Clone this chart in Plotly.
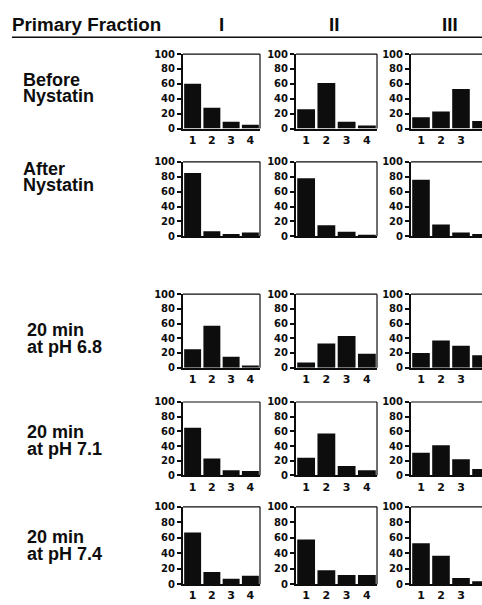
import plotly.graph_objects as go

W, H = 482, 605

# ---------------- data ----------------
bins = [1, 2, 3, 4]
bin_labels = ["1", "2", "3", "4"]
fractions = ["I", "II", "III"]
y_ticks = [0, 20, 40, 60, 80, 100]
row_label_top = ["Before", "After", "20 min", "20 min", "20 min"]
row_label_bottom = ["Nystatin", "Nystatin", "at pH 6.8", "at pH 7.1", "at pH 7.4"]

before_nystatin = [[60, 28, 9, 5], [26, 61, 9, 4], [15, 23, 53, 10]]
after_nystatin = [[85, 7, 3, 5], [78, 15, 6, 1], [76, 16, 5, 3]]
ph_6_8 = [[25, 57, 15, 3], [7, 33, 43, 19], [20, 37, 30, 17]]
ph_7_1 = [[65, 23, 7, 6], [24, 57, 13, 7], [31, 41, 22, 9]]
ph_7_4 = [[67, 16, 7, 11], [58, 18, 12, 12], [53, 37, 8, 4]]
rows = [before_nystatin, after_nystatin, ph_6_8, ph_7_1, ph_7_4]

# ---------------- layout geometry (pixels) ----------------
col_px = [(183, 260), (296, 377), (411, 491)]
row_px = [(49, 125), (159, 235), (294, 369), (404, 479), (511, 590)]
show_xlabels = [True, False, True, True, True]
label_x = [21, 21, 25, 25, 25]
label_y_top = [75, 166, 331, 435, 542]
label_y_bot = [92, 183, 348, 452, 559]
header_x = [221, 334, 450]

TXT = "Liberation Sans, Arial, Helvetica, sans-serif"
NUM = "DejaVu Sans, Arial, sans-serif"
INK = "#0d0d0d"

def px_x(x):
    return x / W

def px_y(y):
    return 1 - y / H

fig = go.Figure()
layout = dict(
    width=W, height=H, autosize=False,
    margin=dict(l=0, r=0, t=0, b=0),
    paper_bgcolor="white", plot_bgcolor="white",
    showlegend=False, bargap=0.12,
)
shapes = []
annotations = []

n = 0
for r, row in enumerate(rows):
    for c, vals in enumerate(row):
        n += 1
        xa = "x" if n == 1 else f"x{n}"
        ya = "y" if n == 1 else f"y{n}"
        xkey = "xaxis" if n == 1 else f"xaxis{n}"
        ykey = "yaxis" if n == 1 else f"yaxis{n}"
        x0, x1 = col_px[c]
        y0, y1 = row_px[r]
        vis_x1 = min(x1, W)
        xmax = 0.5 + 4 * (vis_x1 - x0) / (x1 - x0)
        fig.add_trace(go.Bar(x=bins, y=vals, xaxis=xa, yaxis=ya,
                             marker=dict(color=INK, line=dict(width=0)),
                             hoverinfo="skip"))
        layout[xkey] = dict(
            domain=[px_x(x0), px_x(vis_x1)], anchor=ya,
            range=[0.5, xmax], tickvals=bins, ticktext=bin_labels,
            showticklabels=show_xlabels[r], ticks="",
            showline=True, linecolor=INK, linewidth=2,
            showgrid=False, zeroline=False, fixedrange=True,
            tickfont=dict(family=NUM, size=11, color=INK, weight="bold"),
        )
        layout[ykey] = dict(
            domain=[px_y(y1), px_y(y0)], anchor=xa,
            range=[0, 100], tickvals=y_ticks,
            ticks="outside", ticklen=4, tickwidth=1.5, tickcolor=INK,
            showline=True, linecolor=INK, linewidth=2,
            showgrid=False, zeroline=False, fixedrange=True,
            tickfont=dict(family=NUM, size=10, color=INK, weight="bold"),
        )
        xd = f"{xa} domain"
        yd = f"{ya} domain"
        shapes.append(dict(type="line", xref=xd, yref=yd, x0=0, x1=1, y0=1, y1=1,
                           line=dict(color=INK, width=1.2)))
        if x1 <= W:
            shapes.append(dict(type="line", xref=xd, yref=yd, x0=1, x1=1, y0=0, y1=1,
                               line=dict(color=INK, width=1.2)))

# header
annotations.append(dict(text="Primary Fraction", x=px_x(10), y=px_y(19),
                        xref="paper", yref="paper", xanchor="left", yanchor="middle",
                        showarrow=False, font=dict(family=TXT, size=18.8, color=INK, weight="bold")))
for hx, f in zip(header_x, fractions):
    annotations.append(dict(text=f, x=px_x(hx), y=px_y(19), xref="paper", yref="paper",
                            xanchor="center", yanchor="middle", showarrow=False,
                            font=dict(family=TXT, size=18.8, color=INK, weight="bold")))
shapes.append(dict(type="line", xref="paper", yref="paper", x0=px_x(12), x1=1,
                   y0=px_y(32), y1=px_y(32), line=dict(color=INK, width=1.5)))

# row labels
for r in range(len(rows)):
    for txt, yy in ((row_label_top[r], label_y_top[r]), (row_label_bottom[r], label_y_bot[r])):
        annotations.append(dict(text=txt, x=px_x(label_x[r]), y=px_y(yy),
                                xref="paper", yref="paper", xanchor="left", yanchor="middle",
                                showarrow=False,
                                font=dict(family=TXT, size=18, color=INK, weight="bold")))

layout["shapes"] = shapes
layout["annotations"] = annotations
fig.update_layout(**layout)
fig.write_html("out.html", config={"displayModeBar": False},
               post_script="document.body.style.margin='0px';document.body.style.overflow='hidden';")
